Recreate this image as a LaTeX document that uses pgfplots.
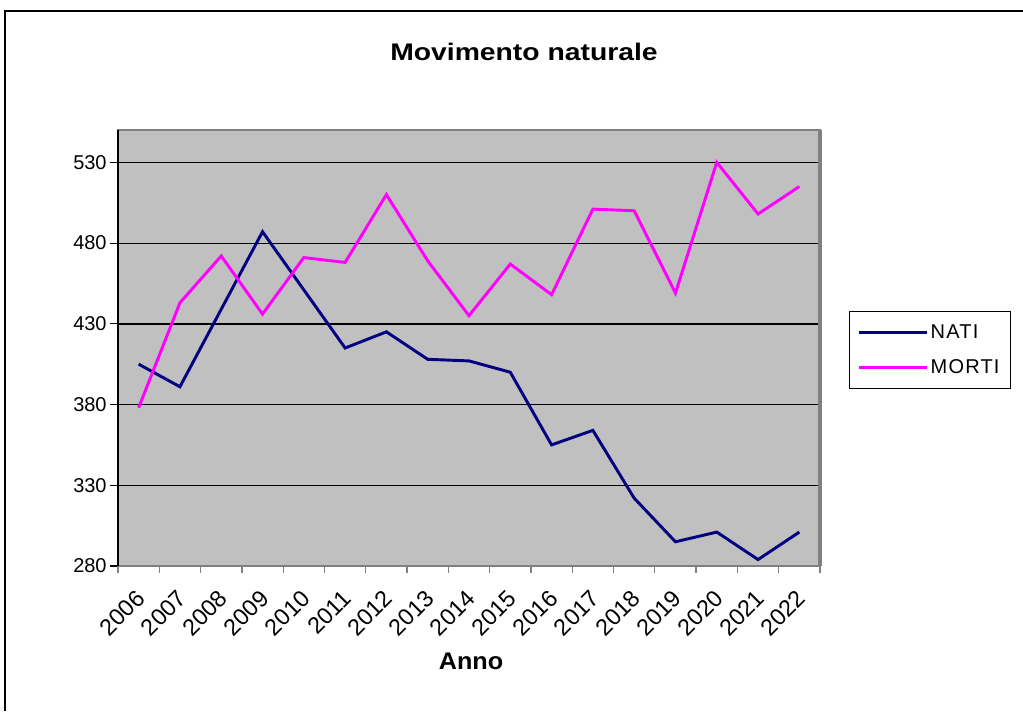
\documentclass[border=0pt]{standalone}
\usepackage{pgfplots}
\pgfplotsset{compat=1.18}
\usepackage{fontspec}
\setmainfont{Liberation Sans}
\definecolor{nati}{HTML}{000080}
\definecolor{morti}{HTML}{FF00FF}
\definecolor{plotbg}{HTML}{C0C0C0}
\begin{document}
\begin{tikzpicture}[x=0.75pt,y=0.75pt]
\useasboundingbox (0,0) rectangle (1023,711);
\draw[line width=1.5pt] (5,0) -- (5,700) -- (1023,700);
\node[font=\bfseries\fontsize{18}{21}\selectfont] at (524,659) {\scalebox{1.18}[1]{Movimento naturale}};
\node[font=\bfseries\fontsize{18}{21}\selectfont] at (471,50) {\scalebox{1.05}[1]{Anno}};
\begin{axis}[
  at={(88.5pt,108.75pt)}, anchor=south west,
  width=526.5pt, height=327pt, scale only axis,
  xmin=-0.5, xmax=16.5, ymin=280, ymax=550,
  axis background/.style={fill=plotbg},
  axis line style={draw=gray, line width=1pt},
  /pgf/number format/assume math mode=true,
  /pgf/number format/1000 sep={},
  ytick={280,330,380,480,530},
  extra y ticks={430},
  extra y tick style={grid style={black, line width=1.6pt}},
  ymajorgrids, grid style={black, line width=0.8pt},
  ytick style={black, line width=0.8pt},
  ytick pos=left, xtick pos=bottom,
  major tick length=6pt,
  tick align=outside,
  yticklabel style={font=\fontsize{15}{17}\selectfont, xshift=1pt},
  xtick={0,...,16},
  xticklabels={2006,2007,2008,2009,2010,2011,2012,2013,2014,2015,2016,2017,2018,2019,2020,2021,2022},
  xtick style={draw=none},
  xticklabel style={font=\fontsize{17.5}{19}\selectfont, yshift=-13pt, xshift=4pt, rotate=45, anchor=east},
  extra x ticks={-0.5,0.5,...,16.5},
  extra x tick labels={},
  extra x tick style={xtick style={draw=gray, line width=1pt}, major tick length=5pt},
  clip=false,
  legend style={at={(1.041,0.585)}, anchor=north west, draw=black, fill=white,
    line width=0.8pt, font=\fontsize{15}{17}\selectfont\addfontfeature{LetterSpace=6},
    inner xsep=6pt, inner ysep=8pt, row sep=10pt},
  legend cell align=left,
  legend image code/.code={\draw[#1, line width=2pt] (0pt,0pt) -- (51pt,0pt);},
]
\addplot[nati, line width=2.2pt] coordinates {
(0,405) (1,391) (2,439) (3,487) (4,451) (5,415) (6,425) (7,408) (8,407)
(9,400) (10,355) (11,364) (12,322) (13,295) (14,301) (15,284) (16,301)};
\addlegendentry{NATI}
\addplot[morti, line width=2.2pt] coordinates {
(0,378) (1,443) (2,472) (3,436) (4,471) (5,468) (6,510) (7,469) (8,435)
(9,467) (10,448) (11,501) (12,500) (13,449) (14,530) (15,498) (16,515)};
\addlegendentry{MORTI}
\draw[black, line width=2pt] (rel axis cs:0,0) -- (rel axis cs:0,1);
\draw[gray, line width=2.5pt] (rel axis cs:1,0) -- (rel axis cs:1,1);
\end{axis}
\end{tikzpicture}
\end{document}
